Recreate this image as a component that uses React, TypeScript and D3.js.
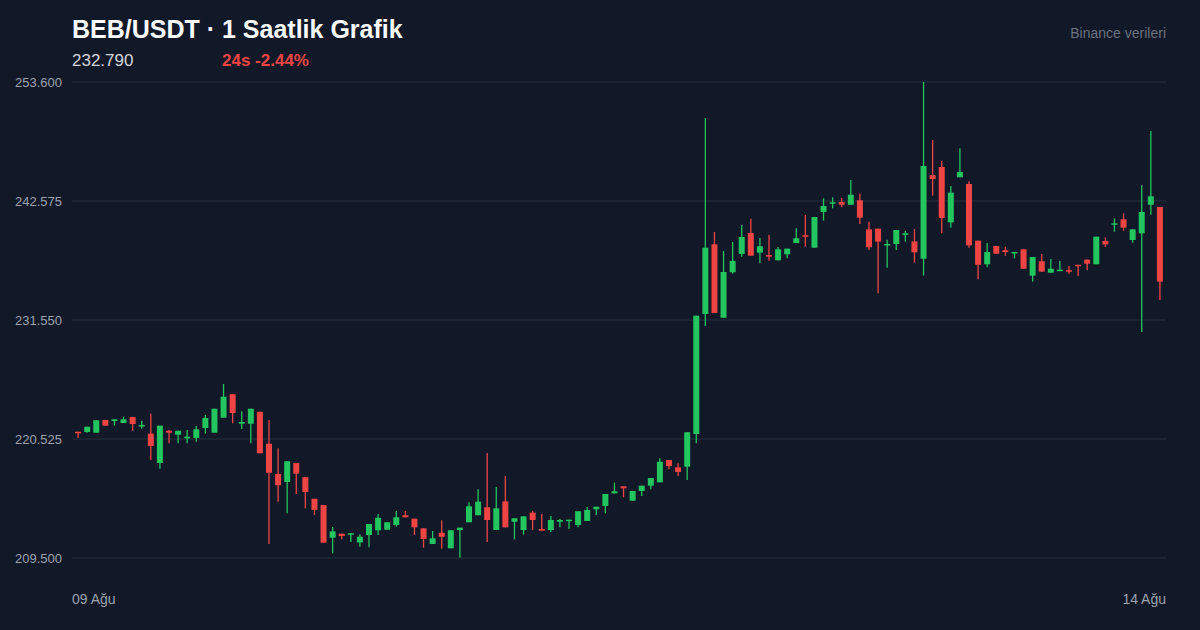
/**
 * BEB/USDT hourly candlestick chart (1 Saatlik Grafik).
 */

import { useEffect, useRef } from 'react';
import * as d3 from 'd3';

// ─── Data ───────────────────────────────────────────────────

const opens = [
  221.20, 221.17, 221.11, 222.29, 222.19, 222.01, 222.56, 221.73, 221.02, 218.30,
  221.29, 220.92, 220.59, 220.62, 221.54, 221.11, 222.50, 224.67, 221.94, 221.94,
  223.05, 220.09, 217.28, 216.54, 218.30, 216.98, 214.99, 214.41, 211.38, 211.75,
  211.70, 210.95, 211.63, 212.07, 212.12, 212.56, 213.46, 213.14, 212.25, 210.80,
  211.84, 210.40, 212.09, 212.81, 213.46, 214.20, 212.09, 214.75, 212.86, 212.09,
  213.70, 212.19, 212.09, 212.86, 212.93, 212.56, 212.93, 214.01, 214.32, 215.49,
  216.14, 214.81, 215.71, 216.20, 216.51, 218.58, 217.90, 217.96, 220.99, 232.11,
  238.56, 231.76, 235.97, 237.67, 239.61, 237.79, 237.57, 237.08, 237.64, 238.68,
  239.40, 238.25, 241.56, 242.33, 242.48, 242.23, 242.64, 239.95, 240.01, 238.50,
  238.59, 239.45, 238.84, 237.23, 244.98, 245.73, 240.60, 244.77, 244.15, 238.90,
  236.71, 238.41, 238.01, 237.73, 238.10, 235.66, 236.99, 235.93, 236.12, 236.16,
  236.67, 237.14, 236.71, 238.87, 240.38, 240.88, 238.96, 239.58, 242.23, 242.02,
];

const highs = [
  221.20, 221.66, 222.26, 222.29, 222.35, 222.59, 222.56, 222.19, 222.87, 221.76,
  221.36, 221.29, 221.36, 221.73, 222.75, 223.33, 225.62, 224.67, 223.09, 223.33,
  223.05, 222.29, 219.66, 218.46, 218.30, 216.98, 214.99, 214.41, 212.37, 211.75,
  211.79, 211.70, 212.65, 213.58, 212.81, 213.85, 213.85, 213.14, 212.25, 212.00,
  212.99, 212.07, 212.31, 214.66, 215.86, 219.23, 216.08, 217.10, 213.18, 213.36,
  213.85, 213.58, 213.39, 213.11, 213.05, 213.83, 214.22, 214.25, 215.43, 216.48,
  216.14, 215.71, 216.20, 216.91, 218.74, 218.58, 218.27, 221.15, 231.95, 250.26,
  239.70, 237.94, 238.78, 240.35, 240.94, 239.15, 239.43, 238.31, 238.16, 240.05,
  241.28, 241.09, 242.83, 242.92, 242.85, 244.52, 243.25, 240.66, 240.01, 238.99,
  239.89, 239.80, 239.98, 253.60, 248.23, 246.28, 243.97, 247.46, 244.40, 238.90,
  238.68, 238.41, 238.34, 237.85, 238.10, 237.39, 237.67, 237.20, 237.02, 236.55,
  236.67, 237.14, 239.27, 239.21, 240.97, 241.44, 239.95, 244.03, 249.06, 242.02,
];

const lows = [
  220.62, 221.11, 221.11, 221.76, 221.76, 222.01, 221.27, 221.48, 218.58, 217.77,
  220.13, 220.13, 220.13, 220.27, 221.02, 221.11, 222.50, 221.98, 221.45, 220.13,
  219.20, 210.80, 214.72, 213.64, 215.43, 214.10, 213.48, 210.92, 209.94, 211.23,
  210.98, 210.55, 210.49, 211.63, 212.12, 212.40, 213.27, 211.63, 210.45, 210.80,
  210.36, 210.40, 209.53, 212.81, 213.46, 210.98, 212.09, 212.34, 211.23, 211.66,
  212.09, 212.03, 211.91, 212.34, 212.19, 212.34, 212.93, 213.48, 213.64, 215.49,
  215.13, 214.81, 215.24, 215.87, 216.51, 217.72, 217.10, 216.73, 220.13, 230.99,
  232.20, 231.76, 235.84, 237.42, 237.51, 236.80, 237.05, 237.08, 237.27, 238.68,
  238.34, 238.25, 240.75, 241.90, 241.99, 242.23, 240.44, 238.04, 234.02, 236.40,
  238.04, 238.81, 236.86, 235.67, 243.07, 239.58, 240.10, 244.77, 238.25, 235.32,
  236.43, 237.69, 237.51, 237.27, 236.30, 235.10, 236.03, 235.93, 236.12, 235.84,
  235.63, 236.16, 236.71, 238.31, 239.73, 239.82, 238.71, 230.44, 241.31, 233.40,
];

const closes = [
  221.05, 221.66, 222.26, 221.76, 222.35, 222.35, 221.91, 221.82, 219.88, 221.76,
  221.11, 221.29, 220.74, 221.42, 222.47, 223.33, 224.44, 222.93, 222.10, 223.33,
  219.20, 217.40, 216.24, 218.46, 217.31, 215.61, 213.95, 210.92, 211.97, 211.54,
  211.79, 211.47, 212.65, 213.23, 212.81, 213.27, 213.27, 212.34, 211.26, 211.32,
  211.47, 212.07, 212.31, 214.29, 214.72, 213.02, 214.10, 212.34, 213.18, 213.36,
  213.02, 212.03, 213.02, 213.02, 213.05, 213.83, 213.95, 214.25, 215.43, 215.68,
  215.96, 215.71, 216.20, 216.91, 218.42, 218.02, 217.47, 221.15, 231.95, 238.25,
  232.20, 236.00, 237.02, 239.24, 237.51, 238.38, 237.42, 238.10, 238.16, 239.12,
  239.27, 241.09, 242.11, 242.46, 242.23, 243.16, 241.03, 238.29, 238.81, 238.59,
  239.89, 239.58, 237.82, 245.82, 244.61, 241.00, 243.35, 245.26, 238.47, 236.67,
  237.85, 237.69, 237.85, 237.85, 236.30, 237.39, 236.03, 236.30, 236.21, 236.03,
  236.53, 236.77, 239.27, 238.56, 240.51, 240.10, 239.95, 241.56, 243.01, 235.10,
];

const yTicks = [209.5, 220.525, 231.55, 242.575, 253.6];
const xLabels = ['09 Ağu', '14 Ağu'];

const title = 'BEB/USDT · 1 Saatlik Grafik';
const lastPrice = '232.790';
const change24h = '24s -2.44%';
const source = 'Binance verileri';

// ─── Component ──────────────────────────────────────────────

const WIDTH = 1200;
const HEIGHT = 630;
const UP = '#22c55e';
const DOWN = '#ef4444';
const FONT = '"Liberation Sans", Arial, Helvetica, sans-serif';

export default function App() {
  const svgRef = useRef<SVGSVGElement>(null);

  useEffect(() => {
    if (!svgRef.current) return;
    const svg = d3.select(svgRef.current);
    svg.selectAll('*').remove();

    const margin = { top: 82, right: 34, bottom: 72, left: 72 };
    const innerW = WIDTH - margin.left - margin.right;

    svg.append('rect')
      .attr('width', WIDTH).attr('height', HEIGHT)
      .attr('fill', '#111827');

    const x = d3.scaleBand<number>()
      .domain(d3.range(closes.length))
      .range([margin.left, margin.left + innerW])
      .padding(0.34);

    const y = d3.scaleLinear()
      .domain([209.5, 253.6])
      .range([HEIGHT - margin.bottom, margin.top]);

    // Grid + y labels
    const grid = svg.append('g');
    grid.selectAll('line')
      .data(yTicks)
      .join('line')
      .attr('x1', margin.left).attr('x2', margin.left + innerW)
      .attr('y1', (d) => y(d)).attr('y2', (d) => y(d))
      .attr('stroke', '#243041')
      .attr('stroke-width', 1);

    grid.selectAll('text')
      .data(yTicks)
      .join('text')
      .attr('x', 62)
      .attr('y', (d) => y(d) + 5)
      .attr('text-anchor', 'end')
      .attr('fill', '#9ca3af')
      .attr('font-family', FONT)
      .attr('font-size', '13px')
      .text((d) => d.toFixed(3));

    // Candles
    const bw = x.bandwidth();
    const candles = svg.append('g')
      .selectAll('g')
      .data(d3.range(closes.length))
      .join('g');

    candles.append('line')
      .attr('x1', (i) => x(i)! + bw / 2).attr('x2', (i) => x(i)! + bw / 2)
      .attr('y1', (i) => y(highs[i])).attr('y2', (i) => y(lows[i]))
      .attr('stroke', (i) => (closes[i] >= opens[i] ? UP : DOWN))
      .attr('stroke-width', 1.3);

    candles.append('rect')
      .attr('x', (i) => x(i)!)
      .attr('width', bw)
      .attr('y', (i) => y(Math.max(opens[i], closes[i])))
      .attr('height', (i) => Math.max(1.5, Math.abs(y(opens[i]) - y(closes[i]))))
      .attr('fill', (i) => (closes[i] >= opens[i] ? UP : DOWN));

    // X labels
    svg.append('text')
      .attr('x', margin.left).attr('y', 604)
      .attr('fill', '#9ca3af').attr('font-family', FONT).attr('font-size', '14px')
      .text(xLabels[0]);
    svg.append('text')
      .attr('x', margin.left + innerW).attr('y', 604)
      .attr('text-anchor', 'end')
      .attr('fill', '#9ca3af').attr('font-family', FONT).attr('font-size', '14px')
      .text(xLabels[1]);

    // Header
    svg.append('text')
      .attr('x', 72).attr('y', 38)
      .attr('fill', '#f9fafb').attr('font-family', FONT)
      .attr('font-size', '25px').attr('font-weight', 700)
      .text(title);
    svg.append('text')
      .attr('x', 72).attr('y', 66)
      .attr('fill', '#d1d5db').attr('font-family', FONT).attr('font-size', '17px')
      .text(lastPrice);
    svg.append('text')
      .attr('x', 222).attr('y', 66)
      .attr('fill', DOWN).attr('font-family', FONT)
      .attr('font-size', '17px').attr('font-weight', 700)
      .text(change24h);
    svg.append('text')
      .attr('x', 1166).attr('y', 38)
      .attr('text-anchor', 'end')
      .attr('fill', '#6b7280').attr('font-family', FONT).attr('font-size', '14px')
      .text(source);
  }, []);

  return (
    <svg
      ref={svgRef}
      width={WIDTH}
      height={HEIGHT}
      style={{ position: 'fixed', left: 0, top: 0, display: 'block' }}
    />
  );
}
